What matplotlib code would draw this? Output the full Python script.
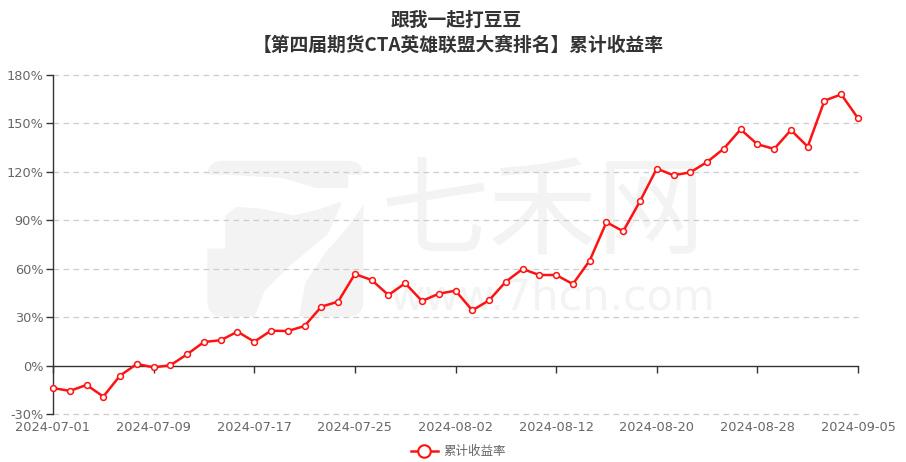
import matplotlib
matplotlib.use("Agg")
import matplotlib.pyplot as plt
from matplotlib.patches import Polygon, FancyBboxPatch
from matplotlib.lines import Line2D

plt.rcParams['font.family'] = ['DejaVu Sans']

# ---------------- data ----------------
dates = [
    "2024-07-01", "2024-07-02", "2024-07-03", "2024-07-04", "2024-07-05",
    "2024-07-08", "2024-07-09", "2024-07-10", "2024-07-11", "2024-07-12",
    "2024-07-15", "2024-07-16", "2024-07-17", "2024-07-18", "2024-07-19",
    "2024-07-22", "2024-07-23", "2024-07-24", "2024-07-25", "2024-07-26",
    "2024-07-29", "2024-07-30", "2024-07-31", "2024-08-01", "2024-08-02",
    "2024-08-05", "2024-08-06", "2024-08-07", "2024-08-08", "2024-08-09",
    "2024-08-12", "2024-08-13", "2024-08-14", "2024-08-15", "2024-08-16",
    "2024-08-19", "2024-08-20", "2024-08-21", "2024-08-22", "2024-08-23",
    "2024-08-26", "2024-08-27", "2024-08-28", "2024-08-29", "2024-08-30",
    "2024-09-02", "2024-09-03", "2024-09-04", "2024-09-05",
]
returns = [
    -13.9, -15.7, -12.0, -19.2, -6.2, 1.0, -1.1, 0.2, 7.0, 14.6,
    15.7, 21.0, 14.8, 21.6, 21.4, 24.5, 36.5, 39.6, 56.7, 53.0,
    43.7, 51.0, 40.0, 44.5, 46.4, 34.2, 40.4, 52.0, 59.8, 56.1,
    56.1, 50.5, 65.0, 88.8, 83.2, 101.8, 122.0, 117.9, 119.7, 126.1,
    134.4, 146.3, 137.1, 134.2, 145.9, 135.6, 164.1, 168.0, 153.2,
]
yticks = [-30, 0, 30, 60, 90, 120, 150, 180]
title_line1 = "跟我一起打豆豆"
title_line2 = "【第四届期货CTA英雄联盟大赛排名】累计收益率"
series_name = "累计收益率"

# ---------------- figure ----------------
W, H = 906, 462
fig = plt.figure(figsize=(W / 100, H / 100), dpi=100)
cjk = ['Noto Sans CJK SC', 'DejaVu Sans']

# background axes for the watermark (pixel coordinates)
bg = fig.add_axes([0, 0, 1, 1], zorder=-1)
bg.set_xlim(0, W)
bg.set_ylim(H, 0)
bg.axis('off')
wm = '#f3f3f3'
clipbox = FancyBboxPatch((207.3, 160.7), 156, 156, boxstyle="round,pad=0,rounding_size=16",
                         fc='none', ec='none')
bg.add_patch(clipbox)
G1 = [(200, 150), (370, 150), (370, 173.3), (346.7, 173.3), (346.7, 186.7),
      (316.7, 186.7), (283.3, 176.7), (226.7, 173.3), (200, 173.3)]
G2 = [(200, 250), (226.7, 250), (226.7, 216.7), (236.7, 208.3), (260, 210), (293.3, 216.7),
      (316.7, 211.7), (340, 203.3), (326.7, 233.3), (286.7, 266.7), (263.3, 290),
      (251.7, 320), (200, 320)]
G3 = [(370, 198), (370, 320), (300, 320), (306.7, 283.3), (326.7, 253.3), (350, 226.7)]
for pg in (G1, G2, G3):
    p = Polygon(pg, closed=True, fc=wm, ec=wm, lw=2, joinstyle='round')
    bg.add_patch(p)
    p.set_clip_path(clipbox)
bg.text(543, 215, "七禾网", family=cjk, fontsize=78, color=wm, ha='center', va='center')
bg.text(552, 298, "www.7hcn.com", family=['DejaVu Sans'], fontsize=31, color=wm,
        ha='center', va='center')

L, R, T, B = 53, 858, 75, 414
ax = fig.add_axes([L / W, 1 - B / H, (R - L) / W, (B - T) / H], zorder=1)
ax.set_facecolor('none')

x = list(range(len(dates)))
red = '#FF1212'
ax.plot(x, returns, color=red, lw=1.8, marker='o', ms=4.2, mfc='white', mec=red,
        mew=1.1, clip_on=False, zorder=5)

ax.set_xlim(0, len(dates) - 1)
ax.set_ylim(yticks[0], yticks[-1])
ax.set_yticks(yticks)
ax.set_yticklabels([f"{v}%" for v in yticks])
for v in yticks:
    if v != 0:
        ax.axhline(v, color='#cccccc', lw=0.9, ls=(0, (4.5, 3.5)), zorder=1, clip_on=False)

tick_idx = list(range(0, len(dates), 6))
ax.set_xticks(tick_idx)
ax.set_xticklabels([])
for s in ('top', 'right'):
    ax.spines[s].set_visible(False)
ax.spines['bottom'].set_position(('data', 0))
ax.spines['bottom'].set_color('#333333')
ax.spines['left'].set_color('#333333')
ax.spines['bottom'].set_linewidth(1.0)
ax.spines['left'].set_linewidth(1.0)
ax.tick_params(axis='x', length=5, width=1, color='#333333', direction='out')
ax.tick_params(axis='y', length=5, width=1, color='#333333', labelcolor='#666666',
               labelsize=9.3, pad=2)

sec = ax.secondary_xaxis(0)
sec.set_xticks(tick_idx)
sec.set_xticklabels([dates[i] for i in tick_idx])
sec.tick_params(length=0, labelcolor='#666666', labelsize=9.3, pad=5)
sec.spines['bottom'].set_visible(False)

fig.text(456 / W, 1 - 20 / H, title_line1, family=cjk, fontsize=13.5, weight='bold',
         color='#333333', ha='center', va='center')
fig.text(458 / W, 1 - 45 / H, title_line2, family=cjk, fontsize=13.5, weight='bold',
         color='#333333', ha='center', va='center')

handle = Line2D([], [], color=red, lw=1.8, marker='o', ms=9, mfc='white', mec=red, mew=1.5)
leg = fig.legend([handle], [series_name], loc='center', bbox_to_anchor=(458 / W, 1 - 452 / H),
                 frameon=False, prop={'family': cjk, 'size': 9}, handlelength=2.2,
                 handletextpad=0.4, labelcolor='#666666')

fig.savefig("out.png", dpi=100)
